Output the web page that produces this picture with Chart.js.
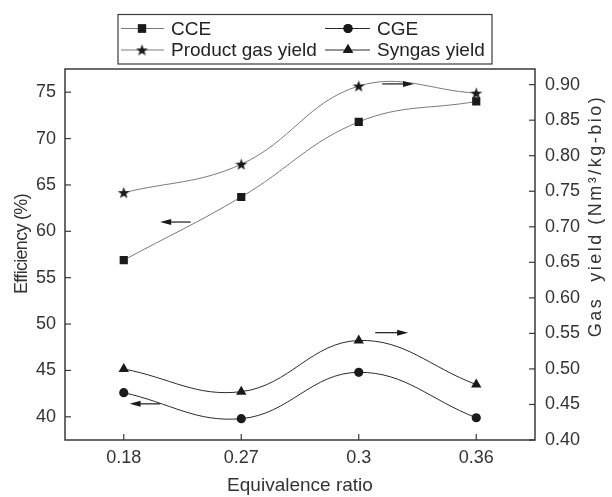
<!DOCTYPE html>
<html>
<head>
<meta charset="utf-8">
<script src="https://cdn.jsdelivr.net/npm/chart.js@4"></script>
<style>
  html, body { margin: 0; padding: 0; background: #fff; }
  #wrap { width: 612px; height: 497px; }
</style>
</head>
<body>
<div id="wrap"><canvas id="grafico" width="612" height="497"></canvas></div>
<script>
// datos
const ratios = ["0.18", "0.27", "0.3", "0.36"];
const cce = [56.9, 63.7, 71.8, 74.0];
const cge = [42.6, 39.8, 44.8, 39.9];
const productGas = [0.748, 0.788, 0.898, 0.888];
const syngas = [0.500, 0.468, 0.540, 0.478];
const ticksIzq = [40, 45, 50, 55, 60, 65, 70, 75];
const ticksDer = [0.40, 0.45, 0.50, 0.55, 0.60, 0.65, 0.70, 0.75, 0.80, 0.85, 0.90];

// flechas: [x inicio, x punta] en indice de categoria, valor y, eje
const flechas = [
    {x0: 0.57, x1: 0.31, y: 61.0, eje: 'yIzq'},
    {x0: 0.31, x1: 0.05, y: 41.4, eje: 'yIzq'},
    {x0: 2.20, x1: 2.47, y: 0.901, eje: 'yDer'},
    {x0: 2.14, x1: 2.42, y: 0.551, eje: 'yDer'}
];

const fuente = "'Liberation Sans', Arial, sans-serif";
const tam = 18;
const negro = '#1a1a1a';
const ejeColor = '#3a3a3a';

// estrella rellena como imagen de punto
function hacerEstrella(){
    const c = document.createElement('canvas');
    c.width = 13; c.height = 13;
    const g = c.getContext('2d');
    g.fillStyle = negro;
    g.beginPath();
    for(let i=0;i<10;i++){
        const r = (i % 2 == 0) ? 6.3 : 2.6;
        const a = -Math.PI/2 + i*Math.PI/5;
        const px = 6.5 + r*Math.cos(a);
        const py = 7 + r*Math.sin(a);
        if(i==0) g.moveTo(px,py); else g.lineTo(px,py);
    }
    g.closePath();
    g.fill();
    return c;
}
const estrella = hacerEstrella();

function tituloVertical(ctx, texto, x, y, espacio){
    ctx.save();
    ctx.fillStyle = '#333';
    ctx.font = tam + 'px ' + fuente;
    ctx.letterSpacing = espacio;
    ctx.textAlign = 'center';
    ctx.textBaseline = 'middle';
    ctx.translate(x, y);
    ctx.rotate(-Math.PI/2);
    ctx.fillText(texto, 0, 0);
    ctx.restore();
}

const marco = {
    id: 'marco',
    afterDraw(chart){
        const ctx = chart.ctx;
        const a = chart.chartArea;
        ctx.save();
        ctx.strokeStyle = ejeColor;
        ctx.lineWidth = 1.5;
        ctx.strokeRect(a.left, a.top, a.right - a.left, a.bottom - a.top);
        ctx.lineWidth = 1.2;
        // marcas hacia adentro
        const sx = chart.scales.x;
        sx.ticks.forEach((t, i) => {
            const px = sx.getPixelForTick(i);
            ctx.beginPath(); ctx.moveTo(px, a.bottom); ctx.lineTo(px, a.bottom - 6); ctx.stroke();
        });
        const si = chart.scales.yIzq;
        si.ticks.forEach(t => {
            const py = si.getPixelForValue(t.value);
            ctx.beginPath(); ctx.moveTo(a.left, py); ctx.lineTo(a.left + 6, py); ctx.stroke();
        });
        const sd = chart.scales.yDer;
        sd.ticks.forEach(t => {
            const py = sd.getPixelForValue(t.value);
            ctx.beginPath(); ctx.moveTo(a.right, py); ctx.lineTo(a.right - 6, py); ctx.stroke();
        });

        // flechas
        ctx.strokeStyle = negro;
        ctx.fillStyle = negro;
        ctx.lineWidth = 1.2;
        flechas.forEach(f => {
            const xa = sx.getPixelForValue(f.x0);
            const xb = sx.getPixelForValue(f.x1);
            const y = chart.scales[f.eje].getPixelForValue(f.y);
            const dir = xb > xa ? 1 : -1;
            ctx.beginPath(); ctx.moveTo(xa, y); ctx.lineTo(xb - dir*8, y); ctx.stroke();
            ctx.beginPath();
            ctx.moveTo(xb, y);
            ctx.lineTo(xb - dir*11, y - 3);
            ctx.lineTo(xb - dir*11, y + 3);
            ctx.closePath();
            ctx.fill();
        });
        ctx.restore();

        // titulos de ejes verticales
        tituloVertical(ctx, 'Efficiency (%)', 22, 244, '-0.7px');
        tituloVertical(ctx, 'Gas  yield (Nm\u00B3/kg-bio)', a.right + 61, 216, '2.5px');

        // leyenda
        ctx.save();
        ctx.strokeStyle = ejeColor;
        ctx.lineWidth = 1.2;
        ctx.strokeRect(118, 14.5, 374, 49.5);
        const filas = [28.5, 50];
        const cols = [{l0: 121, l1: 164, m: 142, t: 171}, {l0: 325, l1: 370, m: 348, t: 377}];
        const orden = [0, 1, 2, 3];
        orden.forEach(k => {
            const ds = chart.data.datasets[k];
            const c = cols[k % 2];
            const y = filas[Math.floor(k / 2)];
            ctx.strokeStyle = ds.borderColor;
            ctx.lineWidth = 1;
            ctx.beginPath(); ctx.moveTo(c.l0, y); ctx.lineTo(c.l1, y); ctx.stroke();
            Chart.helpers.drawPoint(ctx, {
                pointStyle: ds.pointStyle, radius: ds.pointRadius, rotation: 0, borderWidth: 0
            }, c.m, y);
            ctx.fillStyle = negro;
            ctx.fill();
            ctx.fillStyle = '#222';
            ctx.font = '19px ' + fuente;
            ctx.textAlign = 'left';
            ctx.textBaseline = 'middle';
            ctx.fillText(ds.label, c.t, y + 1);
        });
        ctx.restore();
    }
};

const ctx = document.getElementById('grafico').getContext('2d');
const grafico = new Chart(ctx, {
    type: 'line',
    data: {
        labels: ratios,
        datasets: [
            {label: 'CCE', data: cce, yAxisID: 'yIzq', borderColor: '#7a7a7a', borderWidth: 1,
             pointStyle: 'rect', pointRadius: 5.8, pointBackgroundColor: negro, pointBorderWidth: 0, tension: 0.4},
            {label: 'CGE', data: cge, yAxisID: 'yIzq', borderColor: '#2a2a2a', borderWidth: 1,
             pointStyle: 'circle', pointRadius: 4.6, pointBackgroundColor: negro, pointBorderWidth: 0, tension: 0.4},
            {label: 'Product gas yield', data: productGas, yAxisID: 'yDer', borderColor: '#7a7a7a', borderWidth: 1,
             pointStyle: estrella, pointRadius: 6, pointBackgroundColor: negro, pointBorderWidth: 0, tension: 0.4},
            {label: 'Syngas yield', data: syngas, yAxisID: 'yDer', borderColor: '#2a2a2a', borderWidth: 1,
             pointStyle: 'triangle', pointRadius: 6, pointBackgroundColor: negro, pointBorderWidth: 0, tension: 0.4}
        ]
    },
    options: {
        responsive: false,
        animation: { duration: 0 },
        layout: { padding: { top: 69, left: 0, right: 0, bottom: 0 } },
        plugins: {
            legend: { display: false },
            tooltip: { enabled: false }
        },
        scales: {
            x: {
                type: 'category',
                offset: true,
                grid: { display: false, drawTicks: false },
                border: { display: false },
                ticks: { color: '#333', font: { family: fuente, size: tam }, padding: 7 },
                title: { display: true, text: 'Equivalence ratio', color: '#333',
                         font: { family: fuente, size: 19 }, padding: { top: 4, bottom: 0 } },
                afterFit(scale){ scale.height = 57; }
            },
            yIzq: {
                position: 'left',
                min: 37.5,
                max: 77.5,
                grid: { display: false, drawTicks: false },
                border: { display: false },
                afterBuildTicks(scale){ scale.ticks = ticksIzq.map(v => ({value: v})); },
                ticks: { color: '#333', font: { family: fuente, size: tam }, padding: 9 },
                afterFit(scale){ scale.width = 65; }
            },
            yDer: {
                position: 'right',
                min: 0.40,
                max: 0.922,
                grid: { display: false, drawTicks: false },
                border: { display: false },
                afterBuildTicks(scale){ scale.ticks = ticksDer.map(v => ({value: v})); },
                ticks: { color: '#333', font: { family: fuente, size: tam }, padding: 10,
                         callback: v => Number(v).toFixed(2) },
                afterFit(scale){ scale.width = 77; }
            }
        }
    },
    plugins: [marco]
});
</script>
</body>
</html>
